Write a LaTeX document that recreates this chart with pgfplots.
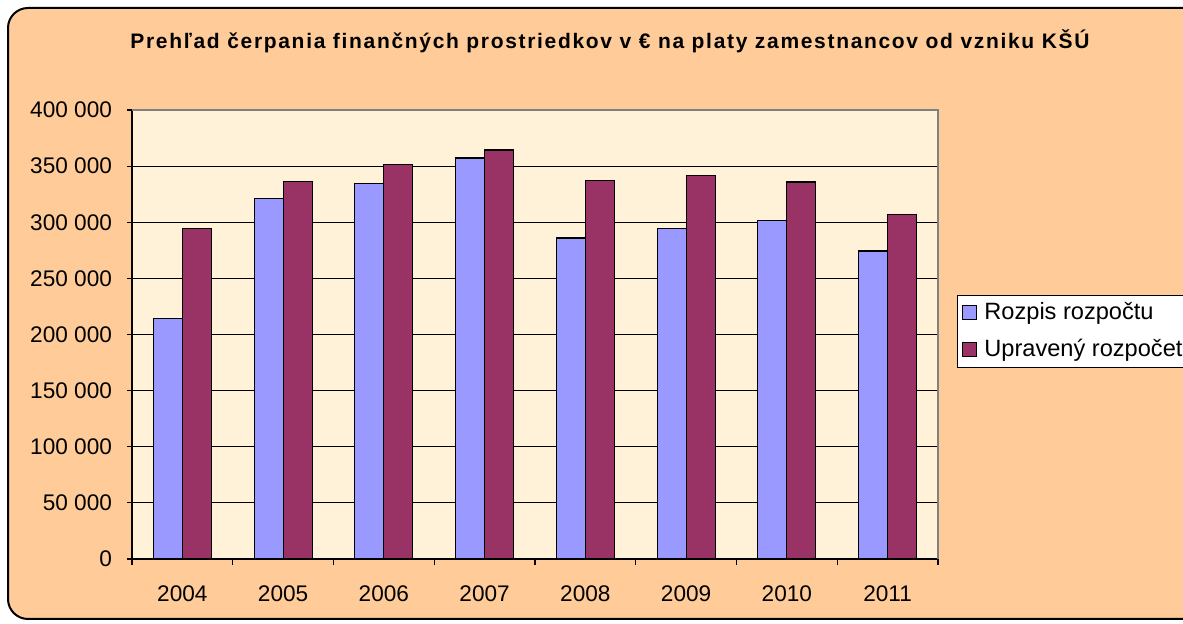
\documentclass[border=0pt]{standalone}
\usepackage{fontspec}
\setmainfont{Liberation Sans}
\newfontfamily\titlefont[LetterSpace=8]{Liberation Sans}
\usepackage{pgfplots}
\pgfplotsset{compat=1.18}
\definecolor{frameorange}{HTML}{FFCC99}
\definecolor{plotbg}{HTML}{FFF2D9}
\definecolor{rozpis}{HTML}{9999FF}
\definecolor{upraveny}{HTML}{993366}

\begin{document}
\begin{tikzpicture}
  \useasboundingbox (0,0) rectangle (591.5pt,312pt);
  \clip (0,0) rectangle (591.5pt,312pt);
  \draw[fill=frameorange, line width=1pt, rounded corners=10pt]
    (4pt,2.5pt) rectangle (700pt,308pt);
  \node[font=\titlefont\fontsize{10.5}{12}\selectfont\bfseries] at (305pt,291.5pt)
    {Prehľad čerpania finančných prostriedkov v € na platy zamestnancov od vzniku KŠÚ};
  \begin{axis}[
    at={(66pt,32.5pt)}, anchor=south west,
    scale only axis,
    width=403pt, height=224.5pt,
    axis background/.style={fill=plotbg},
    ybar=0pt, bar width=14.5pt,
    xmin=-0.5, xmax=7.5,
    ymin=0, ymax=400000,
    xtick={0,...,7},
    xticklabels={2004,2005,2006,2007,2008,2009,2010,2011},
    minor xtick={-0.5,0.5,...,7.5},
    major x tick style={draw=none},
    minor tick length=3pt,
    ytick={0,50000,100000,150000,200000,250000,300000,350000,400000},
    yticklabels={0,50 000,100 000,150 000,200 000,250 000,300 000,350 000,400 000},
    major tick length=2.5pt,
    tick align=outside,
    tick style={black, line width=0.6pt},
    scaled y ticks=false,
    ymajorgrids, grid style={black, line width=0.6pt},
    axis x line*=bottom, axis y line*=left,
    axis line style={black, line width=0.7pt, -},
    tick label style={font=\fontsize{11.3}{13}\selectfont},
    xticklabel style={yshift=-7.5pt},
    yticklabel style={xshift=-4pt},
    legend style={at={(1.0236,0.588)}, anchor=north west, draw=black,
      fill=white, font=\fontsize{11.8}{14}\selectfont,
      inner xsep=2.5pt, inner ysep=1.5pt, row sep=4.5pt,
      nodes={inner xsep=3.5pt}},
    legend cell align=left,
    legend image code/.code={\draw[#1, draw=black, line width=0.5pt]
      (0pt,-3.4pt) rectangle (7pt,3.4pt);},
    after end axis/.code={
      \draw[gray, line width=0.8pt] (rel axis cs:0,1) -- (rel axis cs:1,1) -- (rel axis cs:1,0);
    },
  ]
    \addplot[fill=rozpis, draw=black, line width=0.6pt] coordinates {
      (0,214500) (1,321300) (2,334400) (3,357200)
      (4,286000) (5,294300) (6,301400) (7,274400)
    };
    \addplot[fill=upraveny, draw=black, line width=0.6pt] coordinates {
      (0,294600) (1,336100) (2,351600) (3,364400)
      (4,337300) (5,341500) (6,335900) (7,307100)
    };
    \legend{Rozpis rozpočtu, Upravený rozpočet}
  \end{axis}
\end{tikzpicture}
\end{document}
